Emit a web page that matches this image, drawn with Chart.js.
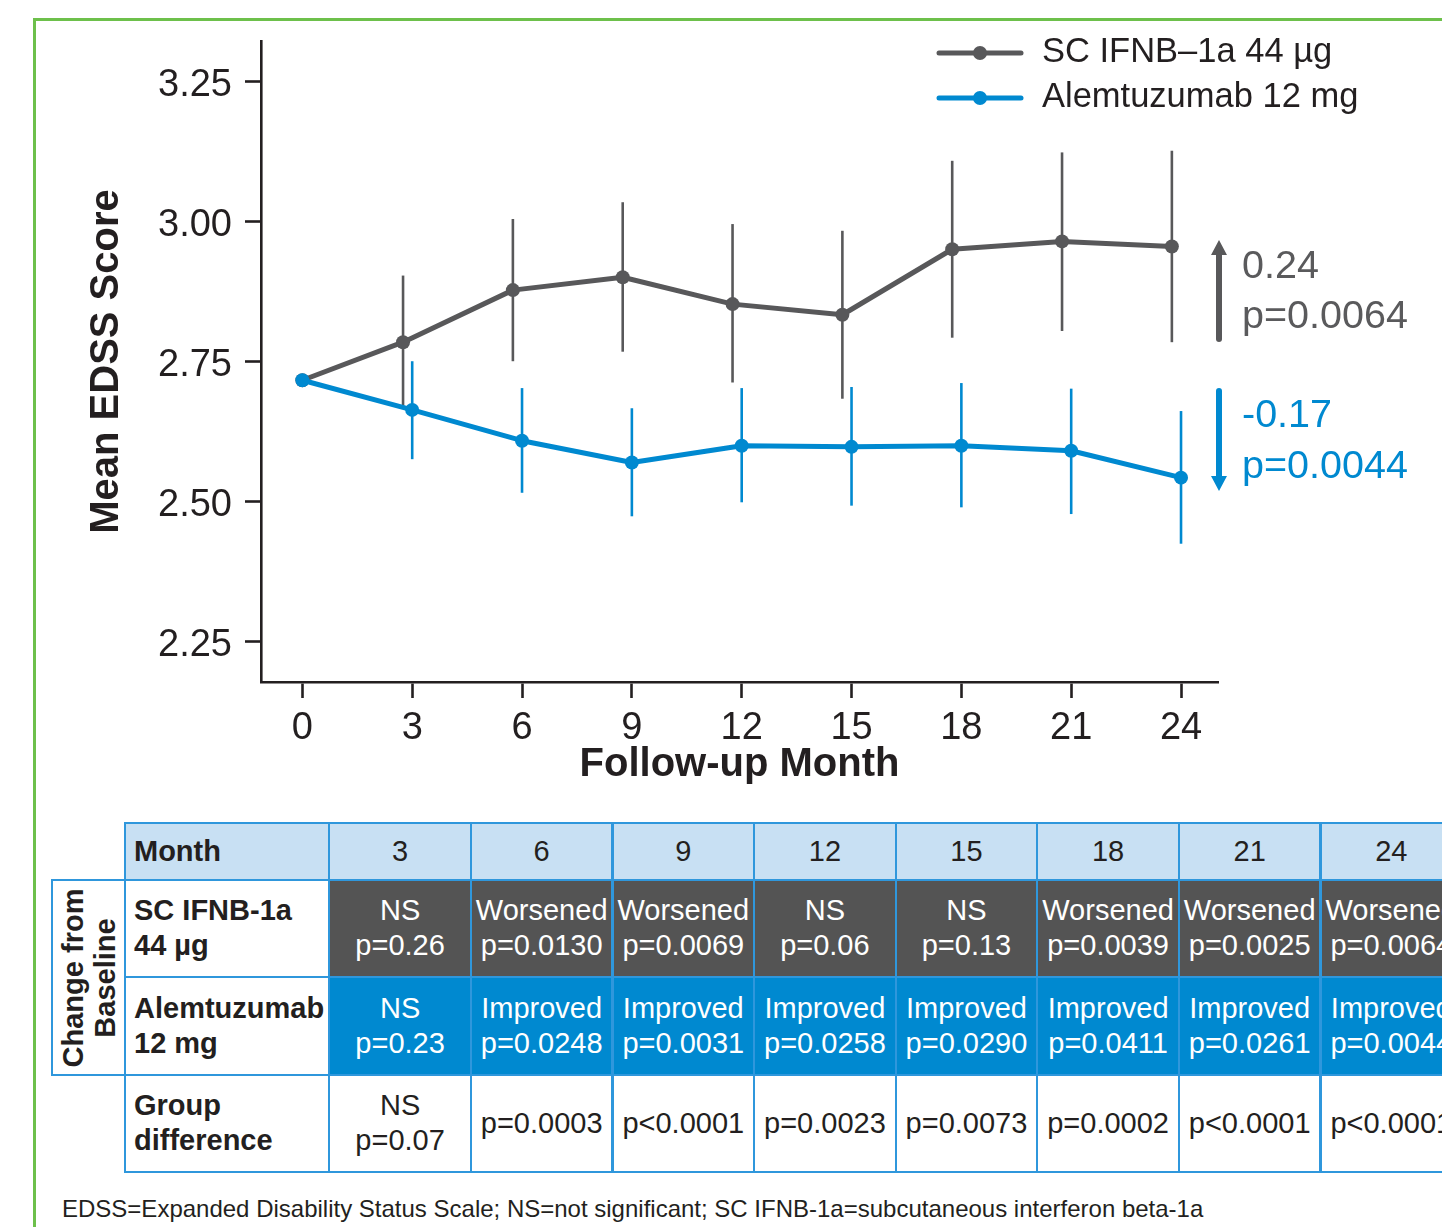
<!DOCTYPE html>
<html>
<head>
<meta charset="utf-8">
<script src="https://cdn.jsdelivr.net/npm/chart.js@4.4.1/dist/chart.umd.min.js"></script>
<style>
  html, body { margin: 0; padding: 0; background: #fff; overflow: hidden; width: 1442px; height: 1227px; }
  body { position: relative; font-family: "Liberation Sans", Arial, Helvetica, sans-serif; color: #231f20; }
  #frame { position: absolute; left: 33px; top: 18px; width: 1500px; height: 1300px;
           border-left: 3px solid #6dc04b; border-top: 3px solid #6dc04b; box-sizing: border-box; }
  #plot { position: absolute; left: 0; top: 0; }
  .cell { position: absolute; box-sizing: border-box; border: 2px solid #2f97dc;
          display: flex; flex-direction: column; justify-content: center; align-items: center;
          font-size: 29px; line-height: 35px; white-space: nowrap; overflow: hidden; }
  .cell.label { align-items: flex-start; padding-left: 8px; font-weight: bold; }
  .hdr { background: #c8e0f3; }
  .ifnb { background: #545454; color: #fff; }
  .alem { background: #0089d0; color: #fff; }
  #side { position: absolute; box-sizing: border-box; border: 2px solid #2f97dc; overflow: hidden; }
  #side div { position: absolute; left: 50%; top: 50%; transform: translate(-50%, -50%) rotate(-90deg);
              font-weight: bold; font-size: 29px; line-height: 32px; text-align: center; white-space: nowrap; }
  #note { position: absolute; left: 62px; top: 1197px; font-size: 24px; line-height: 24px; white-space: nowrap; }
</style>
</head>
<body>
<div id="frame"></div>
<canvas id="plot" width="1442" height="800"></canvas>
<div id="table"></div>
<div id="note"></div>
<script>
// ---- data ----
const months = [0, 3, 6, 9, 12, 15, 18, 21, 24];
const yTicks = [2.25, 2.50, 2.75, 3.00, 3.25];

const ifnbLabel = 'SC IFNB\u20131a 44 \u00b5g';
const ifnbMean = [2.716, 2.784, 2.877, 2.900, 2.852, 2.833, 2.950, 2.964, 2.955];
const ifnbLow  = [null, 2.670, 2.750, 2.767, 2.712, 2.683, 2.792, 2.804, 2.784];
const ifnbHigh = [null, 2.903, 3.004, 3.034, 2.995, 2.983, 3.108, 3.123, 3.126];

const alemLabel = 'Alemtuzumab 12 mg';
const alemMean = [2.716, 2.663, 2.608, 2.569, 2.599, 2.597, 2.599, 2.590, 2.542];
const alemLow  = [null, 2.575, 2.515, 2.473, 2.498, 2.492, 2.489, 2.477, 2.424];
const alemHigh = [null, 2.750, 2.702, 2.666, 2.702, 2.704, 2.711, 2.701, 2.661];

const changeText = ['0.24', '-0.17'];
const changeP = ['p=0.0064', 'p=0.0044'];

const tableMonths = ['3', '6', '9', '12', '15', '18', '21', '24'];
const ifnbStatus = ['NS', 'Worsened', 'Worsened', 'NS', 'NS', 'Worsened', 'Worsened', 'Worsened'];
const ifnbP = ['p=0.26', 'p=0.0130', 'p=0.0069', 'p=0.06', 'p=0.13', 'p=0.0039', 'p=0.0025', 'p=0.0064'];
const alemStatus = ['NS', 'Improved', 'Improved', 'Improved', 'Improved', 'Improved', 'Improved', 'Improved'];
const alemP = ['p=0.23', 'p=0.0248', 'p=0.0031', 'p=0.0258', 'p=0.0290', 'p=0.0411', 'p=0.0261', 'p=0.0044'];
const diffStatus = ['NS', '', '', '', '', '', '', ''];
const diffP = ['p=0.07', 'p=0.0003', 'p<0.0001', 'p=0.0023', 'p=0.0073', 'p=0.0002', 'p<0.0001', 'p<0.0001'];
const rowLabels = [['Month'], ['SC IFNB-1a', '44 \u00b5g'], ['Alemtuzumab', '12 mg'], ['Group', 'difference']];
const sideLabel = ['Change from', 'Baseline'];
const footnote = 'EDSS=Expanded Disability Status Scale; NS=not significant; SC IFNB-1a=subcutaneous interferon beta-1a';

// ---- styles ----
const FONT = "'Liberation Sans', Arial, Helvetica, sans-serif";
const INK = '#231f20';
const GRAY = '#58585a';
const BLUE = '#0089d0';
const DODGE = -0.25;           // small horizontal offset so the two groups' bars do not overlap

// error bars drawn under each dataset's line
const errorBars = {
  id: 'errorBars',
  beforeDatasetDraw(chart, args) {
    const ds = chart.data.datasets[args.index];
    const y = chart.scales.y;
    const ctx = chart.ctx;
    ctx.save();
    ctx.strokeStyle = ds.borderColor;
    ctx.lineWidth = 2.6;
    args.meta.data.forEach((pt, i) => {
      if (ds.errLow[i] == null) return;
      ctx.beginPath();
      ctx.moveTo(pt.x, y.getPixelForValue(ds.errLow[i]));
      ctx.lineTo(pt.x, y.getPixelForValue(ds.errHigh[i]));
      ctx.stroke();
    });
    ctx.restore();
  }
};

function arrow(ctx, x, yFrom, yTo, color) {
  const dir = yTo < yFrom ? -1 : 1;
  const head = 15;
  ctx.save();
  ctx.strokeStyle = color; ctx.fillStyle = color;
  ctx.lineWidth = 6;
  ctx.beginPath();
  ctx.moveTo(x, yFrom);
  ctx.lineTo(x, yTo - dir * head);
  ctx.stroke();
  ctx.beginPath();
  ctx.moveTo(x, yTo);
  ctx.lineTo(x - 8, yTo - dir * head);
  ctx.lineTo(x + 8, yTo - dir * head);
  ctx.closePath();
  ctx.fill();
  ctx.restore();
}

// legend and change-from-baseline notes
const legendNotes = {
  id: 'legendNotes',
  afterDraw(chart) {
    const ctx = chart.ctx;
    ctx.save();
    const rows = [53, 98];
    chart.data.datasets.forEach((ds, i) => {
      const yy = rows[i];
      ctx.strokeStyle = ds.borderColor;
      ctx.lineWidth = 5;
      ctx.lineCap = 'round';
      ctx.beginPath(); ctx.moveTo(939, yy); ctx.lineTo(1021, yy); ctx.stroke();
      ctx.fillStyle = ds.borderColor;
      ctx.beginPath(); ctx.arc(980, yy, 7, 0, Math.PI * 2); ctx.fill();
      ctx.fillStyle = INK;
      ctx.font = '34.5px ' + FONT;
      ctx.textBaseline = 'alphabetic';
      ctx.textAlign = 'left';
      ctx.fillText(ds.label, 1042, yy + 9);
    });

    arrow(ctx, 1219, 339, 240, GRAY);
    arrow(ctx, 1219, 391, 491, BLUE);
    ctx.font = '39.5px ' + FONT;
    ctx.textAlign = 'left';
    ctx.textBaseline = 'alphabetic';
    ctx.fillStyle = '#5a5a5c';
    ctx.fillText(changeText[0], 1242, 278);
    ctx.fillText(changeP[0], 1242, 328);
    ctx.fillStyle = BLUE;
    ctx.fillText(changeText[1], 1242, 427);
    ctx.fillText(changeP[1], 1242, 478);
    ctx.restore();
  }
};

const axisCommon = {
  grid: { drawOnChartArea: false, drawTicks: true, tickLength: 16, tickWidth: 2.6, tickColor: INK },
  border: { display: true, color: INK, width: 2.6 }
};

new Chart(document.getElementById('plot'), {
  type: 'line',
  data: {
    datasets: [
      {
        label: ifnbLabel,
        data: months.map((m, i) => ({ x: m === 0 ? m : m + DODGE, y: ifnbMean[i] })),
        errLow: ifnbLow, errHigh: ifnbHigh,
        borderColor: GRAY, backgroundColor: GRAY, pointBackgroundColor: GRAY,
        borderWidth: 5, pointRadius: 7, pointBorderWidth: 0, pointHoverRadius: 7,
        borderJoinStyle: 'round', borderCapStyle: 'round', order: 2
      },
      {
        label: alemLabel,
        data: months.map((m, i) => ({ x: m, y: alemMean[i] })),
        errLow: alemLow, errHigh: alemHigh,
        borderColor: BLUE, backgroundColor: BLUE, pointBackgroundColor: BLUE,
        borderWidth: 5, pointRadius: 7, pointBorderWidth: 0, pointHoverRadius: 7,
        borderJoinStyle: 'round', borderCapStyle: 'round', order: 1
      }
    ]
  },
  options: {
    responsive: false,
    animation: false,
    devicePixelRatio: 1,
    layout: { padding: { left: 0, top: 41, right: 224, bottom: 0 } },
    plugins: { legend: { display: false }, tooltip: { enabled: false } },
    events: [],
    scales: {
      x: {
        type: 'linear', min: -1.13, max: 25.01,
        afterBuildTicks: s => { s.ticks = months.map(v => ({ value: v })); },
        afterFit: s => { s.height = 118; },
        ticks: { color: INK, font: { family: FONT, size: 38 }, padding: 8, maxRotation: 0, callback: v => String(v) },
        title: { display: true, text: 'Follow-up Month', color: INK, font: { family: FONT, size: 40, weight: 'bold' }, padding: { top: 0, bottom: 11 } },
        ...axisCommon
      },
      y: {
        type: 'linear', min: 2.177, max: 3.322,
        afterBuildTicks: s => { s.ticks = yTicks.map(v => ({ value: v })); },
        afterFit: s => { s.width = 261; },
        ticks: { color: INK, font: { family: FONT, size: 38 }, padding: 13, labelOffset: 4, callback: v => v.toFixed(2) },
        title: { display: true, text: 'Mean EDSS Score', color: INK, font: { family: FONT, size: 40, weight: 'bold' }, padding: { top: 83, bottom: 0 } },
        ...axisCommon
      }
    }
  },
  plugins: [errorBars, legendNotes]
});

// ---- summary table ----
const table = document.getElementById('table');
const colLeft = 125, labelRight = 329.3, colW = 141.6;
const rowEdges = [822.7, 880, 976.7, 1075, 1171.7];

function cell(x0, y0, x1, y1, lines, cls) {
  const d = document.createElement('div');
  d.className = 'cell ' + (cls || '');
  d.style.left = (x0 - 1) + 'px';
  d.style.top = (y0 - 1) + 'px';
  d.style.width = (x1 - x0 + 2) + 'px';
  d.style.height = (y1 - y0 + 2) + 'px';
  lines.filter(t => t !== '').forEach(t => {
    const s = document.createElement('div');
    s.textContent = t;
    d.appendChild(s);
  });
  table.appendChild(d);
  return d;
}

rowLabels.forEach((lab, r) => {
  cell(colLeft, rowEdges[r], labelRight, rowEdges[r + 1], lab, 'label' + (r === 0 ? ' hdr' : ''));
});
tableMonths.forEach((m, c) => {
  const x0 = labelRight + c * colW, x1 = x0 + colW;
  cell(x0, rowEdges[0], x1, rowEdges[1], [m], 'hdr');
  cell(x0, rowEdges[1], x1, rowEdges[2], [ifnbStatus[c], ifnbP[c]], 'ifnb');
  cell(x0, rowEdges[2], x1, rowEdges[3], [alemStatus[c], alemP[c]], 'alem');
  cell(x0, rowEdges[3], x1, rowEdges[4], [diffStatus[c], diffP[c]], '');
});

const side = document.createElement('div');
side.id = 'side';
side.style.left = '51px';
side.style.top = (rowEdges[1] - 1) + 'px';
side.style.width = (colLeft - 51 + 1) + 'px';
side.style.height = (rowEdges[3] - rowEdges[1] + 2) + 'px';
const sideText = document.createElement('div');
sideLabel.forEach(t => {
  const line = document.createElement('div');
  line.style.position = 'static';
  line.style.transform = 'none';
  line.textContent = t;
  sideText.appendChild(line);
});
side.appendChild(sideText);
table.appendChild(side);

document.getElementById('note').textContent = footnote;
</script>
</body>
</html>
